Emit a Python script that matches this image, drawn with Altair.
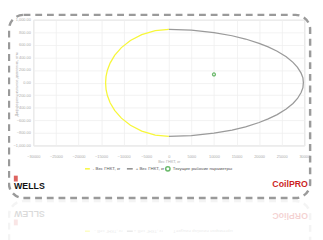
import altair as alt
import pandas as pd

# "+ Вес ГНКТ, кг" branch (gray), top -> right tip -> bottom
plus_x = [0, 5000, 10000, 14000, 17000, 20000, 22000, 24000, 26000, 27500, 28500, 29300, 29700, 29800,
          29700, 29300, 28500, 27500, 26000, 24000, 22000, 20000, 17000, 14000, 10000, 5000, 0]
plus_y = [845, 833, 795, 745, 693, 625, 568, 499, 410, 322, 243, 150, 75, 0,
          -80, -158, -253, -332, -420, -509, -578, -635, -703, -755, -805, -843, -855]

# "- Вес ГНКТ, кг" branch (yellow), top -> left tip -> bottom
minus_x = [0, -3000, -6000, -8500, -10500, -12000, -13000, -13600, -13900, -14000,
           -13900, -13600, -13000, -12000, -10500, -8500, -6000, -3000, 0]
minus_y = [845, 825, 763, 670, 556, 433, 310, 197, 98, -5,
           -108, -207, -320, -443, -566, -680, -773, -835, -855]

# current operating point
cur_x = [10000]
cur_y = [130]

x_ticks = [-30000, -25000, -20000, -15000, -10000, -5000, 0, 5000, 10000, 15000, 20000, 25000, 30000]
y_ticks = [-1000, -800, -600, -400, -200, 0, 200, 400, 600, 800, 1000]

plus_df = pd.DataFrame({"x": plus_x, "y": plus_y, "o": range(len(plus_x))})
minus_df = pd.DataFrame({"x": minus_x, "y": minus_y, "o": range(len(minus_x))})
cur_df = pd.DataFrame({"x": cur_x, "y": cur_y})
one = pd.DataFrame({"a": [0]})

FONT = "Liberation Sans"
OX, OY = 34, 17  # page position of plot origin


def X(px):
    return alt.value(px - OX)


def Y(py):
    return alt.value(py - OY)


xs = alt.X("x:Q", scale=alt.Scale(domain=[-30000, 30000], nice=False),
           axis=alt.Axis(values=x_ticks, format="d", title="Вес ГНКТ, кг", labelFontSize=4,
                         labelColor="#aaaaaa", labelPadding=9, ticks=False, domain=False,
                         labelOverlap=False, labelFlush=False, labelBound=False,
                         titleFontSize=4, titleColor="#aaaaaa", titleFontWeight="normal",
                         titlePadding=2, gridColor="#eeeeee", gridWidth=0.8))
ys = alt.Y("y:Q", scale=alt.Scale(domain=[-1000, 1000], nice=False),
           axis=alt.Axis(values=y_ticks, format=",.2f", title="Дифференциальное давление, атм",
                         labelFontSize=4, labelColor="#aaaaaa", labelPadding=3, ticks=False,
                         labelOverlap=False, labelFlush=False, labelBound=False,
                         domain=False, titleFontSize=4, titleColor="#aaaaaa",
                         titleFontWeight="normal", titleX=-15, titleY=66,
                         gridColor="#eeeeee", gridWidth=0.8))

gray_line = alt.Chart(plus_df).mark_line(color="#9a9a9a", strokeWidth=1.3).encode(
    x=xs, y=ys, order="o:Q")
yellow_line = alt.Chart(minus_df).mark_line(color="#f7f73a", strokeWidth=1.3).encode(
    x=xs, y=ys, order="o:Q")
cur_pt = alt.Chart(cur_df).mark_point(shape="circle", filled=False, color="#2e9e2e",
                                      size=9, strokeWidth=1.3).encode(x=xs, y=ys)


def txt(s, px, py, size=4.5, color="#555555", weight="normal", align="left", angle=0, opacity=1.0):
    return alt.Chart(one).mark_text(text=s, fontSize=size, color=color, fontWeight=weight,
                                    align=align, baseline="middle", angle=angle,
                                    opacity=opacity, font=FONT).encode(x=X(px), y=Y(py))


def hrule(px1, px2, py, color, opacity=1.0, w=1.5):
    return alt.Chart(one).mark_rule(color=color, strokeWidth=w, opacity=opacity).encode(
        x=X(px1), x2=X(px2), y=Y(py))


def box(px1, px2, py1, py2, color, opacity=1.0):
    return alt.Chart(one).mark_rect(color=color, opacity=opacity).encode(
        x=X(px1), x2=X(px2), y=Y(py1), y2=Y(py2))


border = alt.Chart(one).mark_rect(fillOpacity=0, stroke="#9a9a9a", strokeWidth=2.5,
                                  strokeDash=[7, 5], cornerRadius=15).encode(
    x=X(9), x2=X(318), y=Y(12), y2=Y(200))
border_ref = alt.Chart(one).mark_rect(fillOpacity=0, stroke="#9a9a9a", strokeWidth=2.5,
                                      strokeDash=[7, 5], cornerRadius=15, opacity=0.1).encode(
    x=X(9), x2=X(318), y=Y(203), y2=Y(400))

legend_layers = [
    hrule(87, 92, 170, "#f7f73a"),
    txt("- Вес ГНКТ, кг", 95, 170),
    hrule(130, 136, 170, "#8a8a8a"),
    txt("+ Вес ГНКТ, кг", 139, 170),
    alt.Chart(one).mark_point(shape="circle", filled=False, color="#2e9e2e", size=20,
                              strokeWidth=1.5).encode(x=X(172), y=Y(170)),
    txt("Текущие рабочие параметры", 177, 170),
]

logo_layers = [
    box(14, 18, 177, 183, "#d9534f", 0.9),
    txt("WELLS", 30, 187.5, size=9, color="#111111", weight="bold", align="center"),
    txt("CoilPRO", 297.5, 185.5, size=9, color="#cc1f1f", weight="bold", align="center"),
]

reflection_layers = [
    border_ref,
    txt("SLLEW", 30, 216.5, size=9, color="#111111", weight="bold", align="center",
        angle=180, opacity=0.15),
    box(14, 18, 222, 228, "#d9534f", 0.15),
    txt("ORPlioC", 297.5, 218, size=9, color="#cc1f1f", weight="bold", align="center",
        angle=180, opacity=0.2),
    hrule(87, 92, 234, "#f7f73a", 0.3),
    txt("гк ,ТКНГ сеВ -", 111, 234, align="center", angle=180, opacity=0.12),
    hrule(130, 136, 234, "#8a8a8a", 0.2),
    txt("гк ,ТКНГ сеВ +", 152, 234, align="center", angle=180, opacity=0.12),
    txt("ыртемарап еичобар еищукеТ", 208, 234, align="center", angle=180, opacity=0.12),
]

chart = alt.layer(
    gray_line, yellow_line, cur_pt, border, *legend_layers, *logo_layers, *reflection_layers
).properties(
    width=278, height=129, autosize=alt.AutoSizeParams(type="none"),
    padding={"left": 26, "top": 9, "right": 11, "bottom": 94},
    background="white",
).configure_view(stroke=None).configure(font=FONT)

chart.save("out.html", embed_options={"renderer": "svg", "actions": False})
